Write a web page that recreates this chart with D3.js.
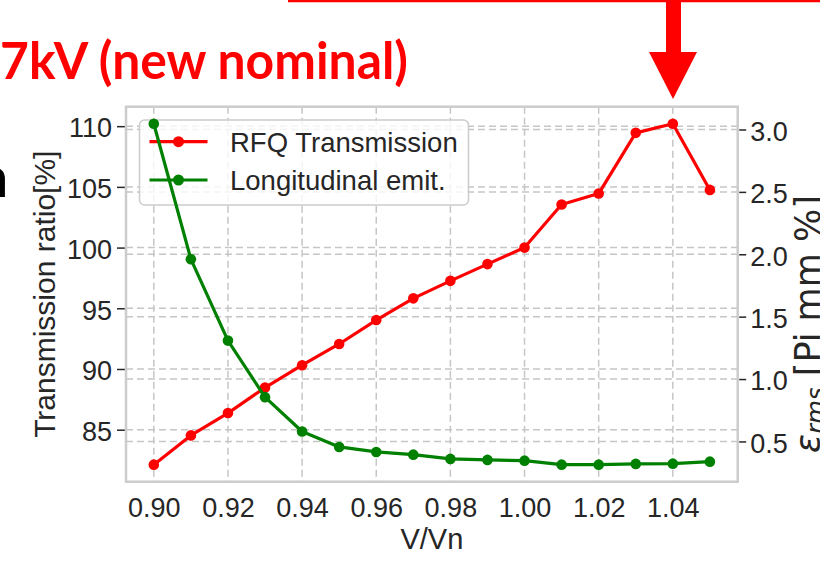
<!DOCTYPE html>
<html>
<head>
<meta charset="utf-8">
<script src="https://cdn.jsdelivr.net/npm/d3@7"></script>
<style>
  html, body { margin: 0; padding: 0; background: #ffffff; }
  svg { display: block; }
</style>
</head>
<body>
<svg id="chart" width="820" height="562"></svg>
<script>
// RFQ voltage scan: transmission and longitudinal emittance vs V/Vn
const voltageRatio = [0.90, 0.91, 0.92, 0.93, 0.94, 0.95, 0.96, 0.97, 0.98, 0.99, 1.00, 1.01, 1.02, 1.03, 1.04, 1.05];
const transmission = [82.12, 84.53, 86.37, 88.47, 90.31, 92.06, 94.03, 95.82, 97.26, 98.64, 100.0, 103.55, 104.45, 109.45, 110.2, 104.75];
const longEmittance = [3.046, 1.961, 1.308, 0.855, 0.580, 0.456, 0.416, 0.394, 0.360, 0.352, 0.346, 0.314, 0.314, 0.320, 0.322, 0.338];

const xTickValues = [0.90, 0.92, 0.94, 0.96, 0.98, 1.00, 1.02, 1.04];
const leftTickValues = [85, 90, 95, 100, 105, 110];
const rightTickValues = [0.5, 1.0, 1.5, 2.0, 2.5, 3.0];
const seriesNames = ["RFQ Transmission", "Longitudinal emit."];
const seriesColors = ["#ff0000", "#008000"];

const svg = d3.select("#chart");
const plot = { left: 126, right: 737.7, top: 106.7, bottom: 481.7 };
const textColor = "#262626";
const tickFont = "'Liberation Sans', Arial, sans-serif";
const mathFont = "'DejaVu Sans', sans-serif";

// autoscale with 5% padding on each side
function padded(values) {
  const [lo, hi] = d3.extent(values);
  const r = hi - lo;
  return [lo - 0.05 * r, hi + 0.05 * r];
}

const x = d3.scaleLinear().domain(padded(voltageRatio)).range([plot.left, plot.right]);
const yL = d3.scaleLinear().domain(padded(transmission)).range([plot.bottom, plot.top]);
const yR = d3.scaleLinear().domain(padded(longEmittance)).range([plot.bottom, plot.top]);

// ---- decorations above the chart ----
svg.append("line")
  .attr("x1", 288).attr("x2", 820).attr("y1", 1).attr("y2", 1)
  .attr("stroke", "#ff0000").attr("stroke-width", 2.5);
svg.append("rect")
  .attr("x", 666).attr("y", 0).attr("width", 15).attr("height", 53)
  .attr("fill", "#ff0000");
svg.append("path")
  .attr("d", "M649,52 L697,52 L673,99 Z")
  .attr("fill", "#ff0000");

svg.append("text")
  .attr("x", 0).attr("y", 78.5)
  .attr("font-family", "Lato, 'Open Sans', sans-serif")
  .attr("font-weight", 700)
  .attr("font-size", 51)
  .attr("fill", "#ff0000")
  .attr("textLength", 408)
  .attr("lengthAdjust", "spacingAndGlyphs")
  .text("7kV (new nominal)");

svg.append("text")
  .attr("x", 8).attr("y", 196.5)
  .attr("text-anchor", "end")
  .attr("font-family", "Lato, 'Open Sans', sans-serif")
  .attr("font-weight", 700)
  .attr("font-size", 55)
  .attr("fill", "#000000")
  .text("n");

// ---- grid ----
const grid = svg.append("g")
  .attr("fill", "none")
  .attr("stroke", "#c6c6c6")
  .attr("stroke-width", 1.5)
  .attr("stroke-dasharray", "7,4");

grid.selectAll(".gx").data(xTickValues).join("line")
  .attr("x1", d => x(d)).attr("x2", d => x(d))
  .attr("y1", plot.top).attr("y2", plot.bottom);
grid.selectAll(".gl").data(leftTickValues).join("line")
  .attr("x1", plot.left).attr("x2", plot.right)
  .attr("y1", d => yL(d)).attr("y2", d => yL(d));
grid.selectAll(".gr").data(rightTickValues).join("line")
  .attr("x1", plot.left).attr("x2", plot.right)
  .attr("y1", d => yR(d)).attr("y2", d => yR(d));

// ---- axes ----
function styleAxis(g) {
  g.select(".domain").remove();
  g.selectAll(".tick line").attr("stroke", textColor).attr("stroke-width", 1.5);
  g.selectAll(".tick text")
    .attr("fill", textColor)
    .attr("font-family", tickFont)
    .attr("font-size", 27);
}

const xAxis = d3.axisBottom(x).tickValues(xTickValues).tickFormat(d3.format(".2f")).tickSize(0).tickPadding(16);
svg.append("g")
  .attr("transform", `translate(0,${plot.bottom})`)
  .call(xAxis)
  .call(styleAxis)
  .call(g => g.selectAll(".tick text").attr("dy", "0.71em"));

const leftAxis = d3.axisLeft(yL).tickValues(leftTickValues).tickFormat(d3.format("d")).tickSize(8).tickPadding(5);
svg.append("g")
  .attr("transform", `translate(${plot.left - 1},0)`)
  .call(leftAxis)
  .call(styleAxis)
  .call(g => g.selectAll(".tick text").attr("dy", "0.4em"));

const rightAxis = d3.axisRight(yR).tickValues(rightTickValues).tickFormat(d3.format(".1f")).tickSize(7).tickPadding(4);
svg.append("g")
  .attr("transform", `translate(${plot.right + 1.5},0)`)
  .call(rightAxis)
  .call(styleAxis)
  .call(g => g.selectAll(".tick text").attr("dy", "0.4em"));

// frame
svg.append("rect")
  .attr("x", plot.left).attr("y", plot.top)
  .attr("width", plot.right - plot.left).attr("height", plot.bottom - plot.top)
  .attr("fill", "none").attr("stroke", "#cccccc").attr("stroke-width", 2.5);

// axis titles
svg.append("text")
  .attr("transform", `translate(55,${(plot.top + plot.bottom) / 2}) rotate(-90)`)
  .attr("text-anchor", "middle")
  .attr("font-family", tickFont)
  .attr("font-size", 30)
  .attr("fill", textColor)
  .text("Transmission ratio[%]");

svg.append("text")
  .attr("x", (plot.left + plot.right) / 2).attr("y", 548.5)
  .attr("text-anchor", "middle")
  .attr("font-family", tickFont)
  .attr("font-size", 29)
  .attr("fill", textColor)
  .text("V/Vn");

// right axis title, set in the math font (epsilon with "rms" subscript)
const rLabel = svg.append("text")
  .attr("transform", "translate(820,453) rotate(-90)")
  .attr("text-anchor", "start")
  .attr("font-family", mathFont)
  .attr("font-size", 35)
  .attr("fill", textColor);
rLabel.append("tspan").attr("font-style", "italic").text("ε");
rLabel.append("tspan").attr("font-style", "italic").attr("font-size", 24.5).attr("dy", 4).text("rms");
rLabel.append("tspan").attr("dy", -4).text(" [Pi mm %]");

// ---- series ----
const rows = voltageRatio.map((v, i) => ({ v, t: transmission[i], e: longEmittance[i] }));

function drawSeries(acc, yScale, color) {
  const line = d3.line().x(d => x(d.v)).y(d => yScale(acc(d)));
  svg.append("path").datum(rows)
    .attr("d", line)
    .attr("fill", "none")
    .attr("stroke", color)
    .attr("stroke-width", 3.2)
    .attr("stroke-linejoin", "round");
  svg.append("g").selectAll("circle").data(rows).join("circle")
    .attr("cx", d => x(d.v)).attr("cy", d => yScale(acc(d)))
    .attr("r", 5.3)
    .attr("fill", color);
}

drawSeries(d => d.t, yL, seriesColors[0]);

// legend
const legend = svg.append("g");
legend.append("rect")
  .attr("x", 139.5).attr("y", 120).attr("width", 329).attr("height", 85)
  .attr("rx", 5).attr("ry", 5)
  .attr("fill", "#ffffff").attr("fill-opacity", 0.8)
  .attr("stroke", "#cccccc").attr("stroke-width", 1.5);
const legendRows = [141.7, 180];
seriesNames.forEach((name, i) => {
  const yy = legendRows[i];
  legend.append("line")
    .attr("x1", 149.5).attr("x2", 207.5).attr("y1", yy).attr("y2", yy)
    .attr("stroke", seriesColors[i]).attr("stroke-width", 3.2);
  legend.append("circle")
    .attr("cx", 178.5).attr("cy", yy).attr("r", 5.5)
    .attr("fill", seriesColors[i]);
  legend.append("text")
    .attr("x", 230).attr("y", yy + 9.8)
    .attr("font-family", tickFont)
    .attr("font-size", 27.5)
    .attr("fill", textColor)
    .text(name);
});

drawSeries(d => d.e, yR, seriesColors[1]);
</script>
</body>
</html>
